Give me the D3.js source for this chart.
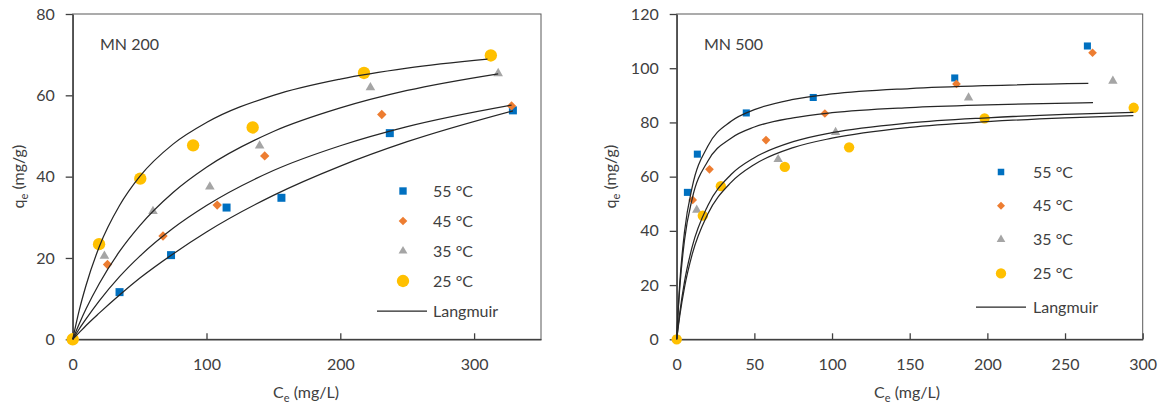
<!DOCTYPE html>
<html>
<head>
<meta charset="utf-8">
<script src="https://cdn.jsdelivr.net/npm/d3@7"></script>
<style>
  body { margin: 0; background: #fff; }
  svg text { font-family: Lato, "Open Sans", sans-serif; fill: #404040; }
</style>
</head>
<body>
<svg id="chart" width="1163" height="411"></svg>
<script>
/* DATA */
const seriesNames = ["55 °C", "45 °C", "35 °C", "25 °C"];
const seriesColors = ["#0070C0", "#ED7D31", "#A5A5A5", "#FFC000"];

// MN 200 measured points [Ce, qe]
const mn200_55 = [[0, 0], [35, 11.6], [73.5, 20.7], [115, 32.4], [156, 34.8], [237, 50.7], [329, 56.3]];
const mn200_45 = [[0, 0], [26, 18.4], [67.5, 25.4], [108, 33], [143.5, 45.1], [231, 55.3], [328, 57.4]];
const mn200_35 = [[0, 0], [23.7, 20.5], [60, 31.5], [102.5, 37.5], [139.7, 47.6], [222.5, 61.9], [318, 65.4]];
const mn200_25 = [[0, 0], [19.7, 23.4], [50.5, 39.5], [90, 47.7], [134.5, 52.1], [217.7, 65.5], [312.5, 69.8]];

// MN 200 Langmuir curves
const mn200_fit55 = [[0, 0], [5, 1.7], [10, 3.4], [20, 6.5], [35, 10.9], [50, 15], [75, 21], [100, 26.4], [150, 35.4], [200, 42.6], [250, 48.6], [329, 56.2]];
const mn200_fit45 = [[0, 0], [5, 2.6], [10, 5], [20, 9.5], [35, 15.4], [50, 20.4], [75, 27.3], [100, 32.9], [150, 41.5], [200, 47.6], [250, 52.3], [328, 57.6]];
const mn200_fit35 = [[0, 0], [5, 3.9], [10, 7.5], [20, 13.8], [35, 21.6], [50, 27.9], [75, 36.1], [100, 42.3], [150, 51.1], [200, 56.9], [250, 61.2], [318, 65.3]];
const mn200_fit25 = [[0, 0], [5, 7.3], [10, 13.3], [20, 22.9], [35, 32.9], [50, 40], [75, 48], [100, 53.3], [150, 60], [200, 64], [250, 66.7], [310, 68.9]];

// MN 500 measured points [Ce, qe]
const mn500_55 = [[0, 0], [6.9, 54.2], [13.3, 68.3], [44.8, 83.5], [87.9, 89.2], [179, 96.4], [264.4, 108.2]];
const mn500_45 = [[0, 0], [10.3, 51.4], [21.1, 62.7], [57.5, 73.5], [95.4, 83.3], [180.1, 94.2], [267.7, 105.7]];
const mn500_35 = [[0, 0], [12.9, 47.7], [65.3, 66.4], [102.3, 76.4], [187.9, 89.1], [280.8, 95.3]];
const mn500_25 = [[0, 0], [16.8, 45.6], [28.4, 56.5], [69.6, 63.6], [111, 70.8], [198.2, 81.5], [294.2, 85.4]];

// MN 500 Langmuir curves
const mn500_fit55 = [[0, 0], [1, 11.8], [2, 21], [5, 39.6], [10, 56.2], [20, 71.2], [35, 80.4], [50, 84.7], [75, 88.5], [100, 90.5], [150, 92.5], [200, 93.6], [265, 94.4]];
const mn500_fit45 = [[0, 0], [1, 10.8], [2, 19.3], [5, 36.5], [10, 51.9], [20, 65.7], [35, 74.2], [50, 78.3], [75, 81.7], [100, 83.6], [150, 85.5], [200, 86.5], [268, 87.3]];
const mn500_fit35 = [[0, 0], [1, 5.3], [2, 9.9], [5, 21.2], [10, 34.2], [20, 49.3], [35, 60.8], [50, 67], [75, 72.9], [100, 76.2], [150, 79.8], [200, 81.7], [250, 83], [294, 83.7]];
const mn500_fit25 = [[0, 0], [1, 4.6], [2, 8.8], [5, 19.1], [10, 31.4], [20, 46.2], [35, 57.9], [50, 64.5], [75, 70.7], [100, 74.2], [150, 78.2], [200, 80.3], [250, 81.7], [294, 82.5]];

// axis ticks
const mn200_xTicks = [0, 100, 200, 300];
const mn200_yTicks = [0, 20, 40, 60, 80];
const mn500_xTicks = [0, 50, 100, 150, 200, 250, 300];
const mn500_yTicks = [0, 20, 40, 60, 80, 100, 120];

/* CONSTANTS AND GLOBALS */
const svg = d3.select("#chart");
const lineColor = "#262626";

const panels = [
  {
    title: "MN 200",
    box: {left: 72.7, right: 541, top: 14, bottom: 339.3},
    xMax: 350, yMax: 80,
    xTicks: mn200_xTicks, yTicks: mn200_yTicks,
    points: [mn200_55, mn200_45, mn200_35, mn200_25],
    fits: [mn200_fit55, mn200_fit45, mn200_fit35, mn200_fit25],
    sizes: [64, 44, 40, 120],
    legend: {x: 403, textX: 433, y0: 191, step: 30, lineX0: 377, lineX1: 427},
    titlePos: [100, 50],
    xTitleX: 306, yTitleX: 24
  },
  {
    title: "MN 500",
    box: {left: 676.7, right: 1142.7, top: 14, bottom: 339.3},
    xMax: 300, yMax: 120,
    xTicks: mn500_xTicks, yTicks: mn500_yTicks,
    points: [mn500_55, mn500_45, mn500_35, mn500_25],
    fits: [mn500_fit55, mn500_fit45, mn500_fit35, mn500_fit25],
    sizes: [50, 38, 38, 84],
    legend: {x: 1001, textX: 1033, y0: 172, step: 33.8, lineX0: 976, lineX1: 1026},
    titlePos: [704, 49.5],
    xTitleX: 907, yTitleX: 616
  }
];

const symbolTypes = [d3.symbolSquare, d3.symbolSquare, d3.symbolTriangle, d3.symbolCircle];
const symbolRotate = [0, 45, 0, 0];

panels.forEach(drawPanel);

/* DRAW FUNCTION */
function drawPanel(p) {
  const b = p.box;
  const g = svg.append("g");

  const xScale = d3.scaleLinear().domain([0, p.xMax]).range([b.left, b.right]);
  const yScale = d3.scaleLinear().domain([0, p.yMax]).range([b.bottom, b.top]);

  // plot frame
  g.append("rect")
    .attr("x", b.left).attr("y", b.top)
    .attr("width", b.right - b.left).attr("height", b.bottom - b.top)
    .attr("fill", "none").attr("stroke", "#595959").attr("stroke-width", 1);

  const xAxis = d3.axisBottom(xScale).tickValues(p.xTicks).tickSize(-6).tickSizeOuter(0).tickPadding(19);
  const yAxis = d3.axisLeft(yScale).tickValues(p.yTicks).tickSize(7).tickSizeOuter(0).tickPadding(11);

  const xg = g.append("g")
    .attr("transform", `translate(0, ${b.bottom})`)
    .call(xAxis);
  const yg = g.append("g")
    .attr("transform", `translate(${b.left}, 0)`)
    .call(yAxis);

  [xg, yg].forEach(ax => {
    ax.select(".domain").attr("stroke", "#404040").attr("stroke-width", 1.4);
    ax.selectAll(".tick line").attr("stroke", "#404040").attr("stroke-width", 1.3);
    ax.selectAll(".tick text").style("font-size", "16px").attr("fill", "#404040");
  });

  // measured points
  p.points.forEach((pts, i) => {
    const sym = d3.symbol().type(symbolTypes[i]).size(p.sizes[i]);
    g.append("g").selectAll("path")
      .data(pts)
      .join("path")
      .attr("d", sym)
      .attr("fill", seriesColors[i])
      .attr("transform", d => `translate(${xScale(d[0])},${yScale(d[1])}) rotate(${symbolRotate[i]})`);
  });

  // Langmuir curves
  const line = d3.line()
    .x(d => xScale(d[0]))
    .y(d => yScale(d[1]))
    .curve(d3.curveMonotoneX);

  g.append("g").selectAll("path")
    .data(p.fits)
    .join("path")
    .attr("d", line)
    .attr("fill", "none")
    .attr("stroke", lineColor)
    .attr("stroke-width", 1.25);

  // panel label
  g.append("text")
    .attr("x", p.titlePos[0]).attr("y", p.titlePos[1])
    .style("font-size", "16px")
    .text(p.title);

  // axis titles
  const xt = g.append("text")
    .attr("x", p.xTitleX).attr("y", 398)
    .attr("text-anchor", "middle")
    .style("font-size", "16px");
  xt.append("tspan").text("C");
  xt.append("tspan").attr("dy", 4).style("font-size", "11px").text("e");
  xt.append("tspan").attr("dy", -4).text(" (mg/L)");

  const cy = (b.top + b.bottom) / 2;
  const yt = g.append("text")
    .attr("transform", `translate(${p.yTitleX}, ${cy}) rotate(-90)`)
    .attr("text-anchor", "middle")
    .style("font-size", "16px");
  yt.append("tspan").text("q");
  yt.append("tspan").attr("dy", 4).style("font-size", "11px").text("e");
  yt.append("tspan").attr("dy", -4).text(" (mg/g)");

  // legend
  const L = p.legend;
  seriesNames.forEach((name, i) => {
    const y = L.y0 + i * L.step;
    const legSize = i === 3 ? p.sizes[i] : p.sizes[i] * 0.85;
    g.append("path")
      .attr("d", d3.symbol().type(symbolTypes[i]).size(legSize))
      .attr("fill", seriesColors[i])
      .attr("transform", `translate(${L.x},${y}) rotate(${symbolRotate[i]})`);
    g.append("text")
      .attr("x", L.textX).attr("y", y)
      .attr("dy", "0.35em")
      .style("font-size", "16px")
      .text(name);
  });
  const ly = L.y0 + 4 * L.step;
  g.append("line")
    .attr("x1", L.lineX0).attr("x2", L.lineX1)
    .attr("y1", ly).attr("y2", ly)
    .attr("stroke", lineColor).attr("stroke-width", 1.25);
  g.append("text")
    .attr("x", L.textX).attr("y", ly)
    .attr("dy", "0.35em")
    .style("font-size", "16px")
    .text("Langmuir");
}
</script>
</body>
</html>
